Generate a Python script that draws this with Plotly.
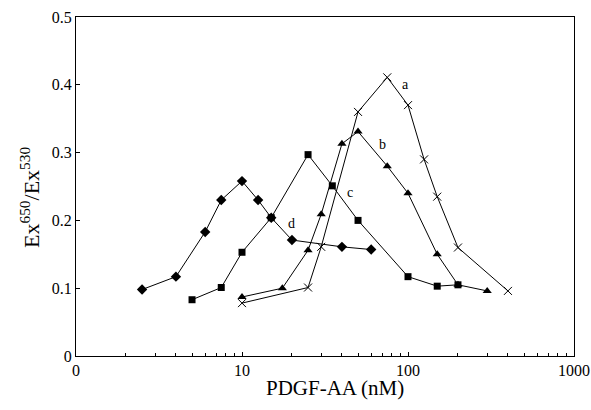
import math
import plotly.graph_objects as go

# Series a (x markers)
a_x = [10, 25, 30, 50, 75, 100, 125, 150, 200, 400]
a_y = [0.078, 0.101, 0.161, 0.360, 0.411, 0.370, 0.290, 0.235, 0.160, 0.096]
# Series b (triangles)
b_x = [10, 17.5, 25, 30, 40, 50, 75, 100, 150, 200, 300]
b_y = [0.087, 0.100, 0.156, 0.209, 0.313, 0.331, 0.280, 0.240, 0.150, 0.105, 0.096]
# Series c (squares)
c_x = [5, 7.5, 10, 15, 25, 35, 50, 100, 150, 200]
c_y = [0.083, 0.101, 0.153, 0.204, 0.297, 0.251, 0.200, 0.117, 0.103, 0.105]
# Series d (diamonds)
d_x = [2.5, 4, 6, 7.5, 10, 12.5, 15, 20, 40, 60]
d_y = [0.098, 0.117, 0.183, 0.230, 0.258, 0.230, 0.204, 0.171, 0.161, 0.157]

labels = ["a", "b", "c", "d"]
label_x = [96, 70, 45, 19.8]
label_y = [0.400, 0.312, 0.241, 0.195]

x_tickvals = [1, 10, 100, 1000]
x_ticktext = ["0", "10", "100", "1000"]
y_tickvals = [0, 0.1, 0.2, 0.3, 0.4, 0.5]
y_ticktext = ["0", "0.1", "0.2", "0.3", "0.4", "0.5"]

x_title = "PDGF-AA (nM)"
y_title = "Ex<sup>650</sup>/Ex<sup>530</sup>"

FONT = "Liberation Serif"

fig = go.Figure()
line = dict(color="black", width=1)
fig.add_trace(go.Scatter(x=d_x, y=d_y, mode="lines+markers", line=line,
                         marker=dict(symbol="diamond", size=8, color="black")))
fig.add_trace(go.Scatter(x=c_x, y=c_y, mode="lines+markers", line=line,
                         marker=dict(symbol="square", size=7, color="black")))
fig.add_trace(go.Scatter(x=b_x, y=b_y, mode="lines+markers", line=line,
                         marker=dict(symbol="triangle-up", size=8, color="black")))
fig.add_trace(go.Scatter(x=a_x, y=a_y, mode="lines+markers", line=line,
                         marker=dict(symbol="x-thin", size=8, color="black",
                                     line=dict(color="black", width=1))))

for t, lx, ly in zip(labels, label_x, label_y):
    fig.add_annotation(x=math.log10(lx), y=ly, xref="x", yref="y", text=t,
                       showarrow=False,
                       font=dict(family=FONT, size=14, color="black"))

# axis titles as annotations for exact placement
fig.add_annotation(x=0.52, y=0, xref="paper", yref="paper", yshift=-32,
                   xanchor="center", yanchor="middle", text=x_title,
                   showarrow=False, font=dict(family=FONT, size=21, color="black"))
fig.add_annotation(x=0, y=0.469, xref="paper", yref="paper", xshift=-46,
                   xanchor="center", yanchor="middle", text=y_title,
                   textangle=-90, showarrow=False,
                   font=dict(family=FONT, size=22, color="black"))

minor_vals = [m * 10 ** e for e in range(0, 3) for m in range(2, 10)]

fig.update_layout(
    width=591, height=410,
    margin=dict(l=76, r=17, t=17, b=54),
    paper_bgcolor="white", plot_bgcolor="white",
    showlegend=False,
    font=dict(family=FONT, color="black", size=16),
    xaxis=dict(
        type="log", range=[0, 3], automargin=False,
        tickmode="array", tickvals=x_tickvals, ticktext=x_ticktext,
        ticks="inside", ticklen=4, tickcolor="black",
        showline=True, linecolor="black", linewidth=1, mirror=True,
        showgrid=False, zeroline=False,
        minor=dict(tickmode="array", tickvals=minor_vals, ticks="inside",
                   ticklen=3, tickcolor="black", showgrid=False),
        tickfont=dict(family=FONT, size=16),
    ),
    yaxis=dict(
        range=[0, 0.5], automargin=False,
        tickmode="array", tickvals=y_tickvals, ticktext=y_ticktext,
        ticks="inside", ticklen=4, tickcolor="black",
        showline=True, linecolor="black", linewidth=1, mirror=True,
        showgrid=False, zeroline=False,
        tickfont=dict(family=FONT, size=16),
    ),
)

fig.write_html("out.html",
               config={"displayModeBar": False},
               post_script="document.body.style.margin='0px'; document.body.style.overflow='hidden';")
